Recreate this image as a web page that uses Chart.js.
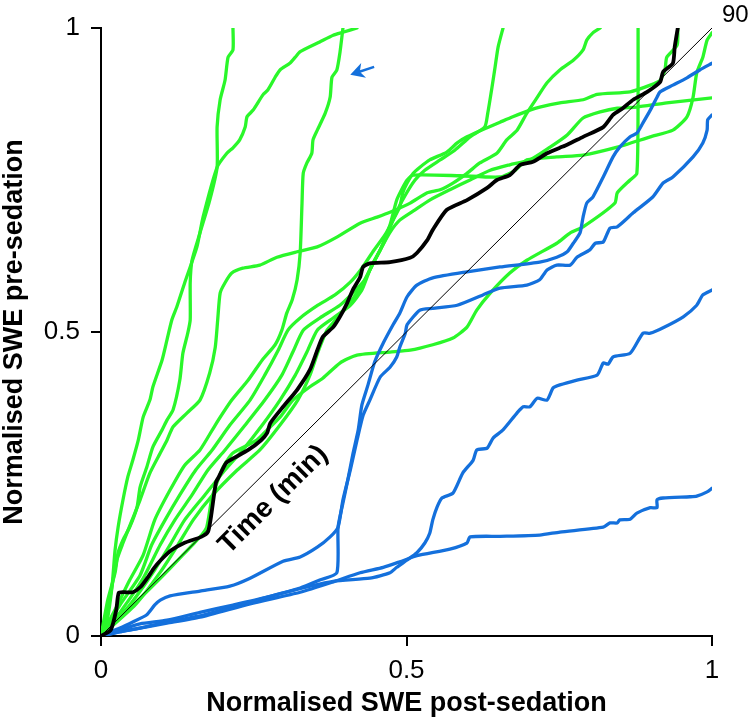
<!DOCTYPE html>
<html>
<head>
<meta charset="utf-8">
<script src="https://cdn.jsdelivr.net/npm/chart.js@4.4.1/dist/chart.umd.min.js"></script>
<style>
  html, body { margin: 0; padding: 0; background: #fff; }
  #wrap { width: 754px; height: 724px; }
</style>
</head>
<body>
<div id="wrap"><canvas id="sweChart" width="754" height="724"></canvas></div>
<script>
// ticks
const xTicks = [0, 0.5, 1];
const yTicks = [0, 0.5, 1];

// identity (time) line, 0 -> 90 min
const identityLine = [[0, 0], [1, 1]];
const identityEnd = '90';
const identityText = 'Time (min)';
const identityTextAt = [0.282, 0.224];

// arrow annotation (tip, tail) in data units
const arrowTip = [0.408, 0.923];
const arrowTail = [0.447, 0.936];

// mean curve
const meanCurve = [[0,0],[0.016,0.010],[0.025,0.043],[0.029,0.071],[0.038,0.072],[0.052,0.072],[0.065,0.081],[0.077,0.097],[0.087,0.112],[0.098,0.125],[0.115,0.141],[0.136,0.153],[0.164,0.163],[0.175,0.171],[0.180,0.196],[0.188,0.252],[0.193,0.262],[0.205,0.285],[0.218,0.293],[0.241,0.306],[0.262,0.322],[0.272,0.334],[0.277,0.350],[0.298,0.377],[0.321,0.405],[0.342,0.438],[0.354,0.470],[0.363,0.492],[0.380,0.508],[0.391,0.525],[0.403,0.548],[0.412,0.569],[0.424,0.590],[0.429,0.607],[0.440,0.613],[0.473,0.615],[0.506,0.622],[0.517,0.630],[0.534,0.651],[0.543,0.668],[0.566,0.701],[0.599,0.717],[0.632,0.737],[0.648,0.750],[0.669,0.758],[0.686,0.775],[0.707,0.780],[0.730,0.794],[0.751,0.803],[0.763,0.808],[0.789,0.821],[0.822,0.837],[0.838,0.857],[0.854,0.868],[0.871,0.882],[0.894,0.895],[0.915,0.911],[0.920,0.928],[0.936,0.942],[0.939,0.969],[0.944,1.0]];

// green subjects
const green1 = [[0,0],[0.011,0.059],[0.023,0.104],[0.028,0.137],[0.036,0.158],[0.047,0.179],[0.059,0.212],[0.064,0.245],[0.075,0.278],[0.085,0.311],[0.100,0.339],[0.108,0.355],[0.118,0.372],[0.129,0.421],[0.134,0.465],[0.142,0.498],[0.146,0.520],[0.146,0.581],[0.149,0.618],[0.162,0.663],[0.178,0.717],[0.190,0.771],[0.190,0.837],[0.195,0.882],[0.203,0.914],[0.208,0.952],[0.216,0.964],[0.216,1.0]];
const green2 = [[0,0],[0.023,0.043],[0.047,0.092],[0.069,0.133],[0.088,0.191],[0.113,0.240],[0.137,0.281],[0.162,0.306],[0.187,0.347],[0.214,0.388],[0.241,0.421],[0.264,0.454],[0.285,0.479],[0.296,0.503],[0.304,0.531],[0.313,0.553],[0.321,0.586],[0.326,0.630],[0.329,0.712],[0.331,0.761],[0.337,0.778],[0.345,0.794],[0.347,0.816],[0.354,0.832],[0.367,0.860],[0.375,0.886],[0.378,0.919],[0.386,0.931],[0.391,0.959],[0.396,1.0]];
const green3 = [[0,0],[0.010,0.026],[0.018,0.081],[0.023,0.141],[0.028,0.179],[0.036,0.224],[0.044,0.262],[0.052,0.289],[0.061,0.322],[0.069,0.360],[0.080,0.388],[0.085,0.410],[0.100,0.454],[0.108,0.487],[0.116,0.520],[0.124,0.541],[0.137,0.581],[0.157,0.640],[0.167,0.689],[0.190,0.771],[0.206,0.794],[0.216,0.803],[0.227,0.816],[0.236,0.837],[0.239,0.854],[0.249,0.865],[0.265,0.890],[0.273,0.898],[0.285,0.919],[0.293,0.931],[0.309,0.942],[0.318,0.952],[0.326,0.961],[0.358,0.977],[0.380,0.988],[0.396,0.993],[0.419,1.0]];
const green4 = [[0,0],[0.056,0.051],[0.097,0.105],[0.126,0.150],[0.151,0.191],[0.183,0.232],[0.223,0.273],[0.260,0.306],[0.293,0.347],[0.322,0.388],[0.342,0.429],[0.355,0.467],[0.370,0.503],[0.391,0.528],[0.411,0.553],[0.427,0.577],[0.444,0.610],[0.465,0.651],[0.481,0.692],[0.498,0.725],[0.514,0.750],[0.530,0.766],[0.555,0.783],[0.579,0.799],[0.604,0.821],[0.628,0.837],[0.633,0.860],[0.640,0.903],[0.645,0.936],[0.650,0.969],[0.658,1.0]];
const green5 = [[0,0],[0.011,0.043],[0.026,0.125],[0.036,0.153],[0.051,0.191],[0.064,0.224],[0.080,0.268],[0.097,0.301],[0.108,0.322],[0.118,0.344],[0.141,0.367],[0.162,0.388],[0.178,0.433],[0.187,0.475],[0.191,0.520],[0.195,0.564],[0.203,0.581],[0.214,0.597],[0.232,0.605],[0.260,0.610],[0.288,0.623],[0.321,0.632],[0.354,0.640],[0.386,0.656],[0.424,0.679],[0.452,0.689],[0.473,0.697],[0.506,0.712],[0.534,0.729],[0.555,0.734],[0.576,0.745],[0.599,0.761],[0.620,0.778],[0.648,0.794],[0.664,0.816],[0.681,0.832],[0.697,0.860],[0.714,0.886],[0.730,0.910],[0.751,0.931],[0.773,0.947],[0.789,0.964],[0.795,0.980],[0.805,0.992],[0.817,1.0]];
const green6 = [[0,0],[0.031,0.030],[0.064,0.062],[0.097,0.095],[0.129,0.128],[0.162,0.163],[0.173,0.179],[0.182,0.229],[0.200,0.278],[0.216,0.301],[0.255,0.322],[0.272,0.339],[0.293,0.360],[0.314,0.388],[0.342,0.410],[0.363,0.424],[0.391,0.449],[0.419,0.462],[0.473,0.467],[0.506,0.470],[0.543,0.479],[0.576,0.490],[0.599,0.508],[0.615,0.536],[0.637,0.564],[0.669,0.597],[0.697,0.618],[0.746,0.646],[0.768,0.663],[0.789,0.673],[0.841,0.712],[0.845,0.729],[0.866,0.750],[0.877,0.761],[0.879,0.882],[0.879,1.0]];
const green7 = [[0,0],[0.031,0.051],[0.064,0.100],[0.083,0.150],[0.105,0.191],[0.129,0.232],[0.155,0.273],[0.182,0.306],[0.211,0.347],[0.244,0.388],[0.268,0.429],[0.290,0.470],[0.306,0.503],[0.326,0.523],[0.355,0.544],[0.383,0.561],[0.408,0.582],[0.427,0.605],[0.445,0.632],[0.465,0.660],[0.478,0.684],[0.489,0.706],[0.494,0.729],[0.501,0.745],[0.511,0.761],[0.522,0.771],[0.538,0.783],[0.566,0.796],[0.583,0.811],[0.599,0.821],[0.632,0.836],[0.653,0.845],[0.674,0.854],[0.702,0.865],[0.718,0.870],[0.751,0.877],[0.789,0.882],[0.812,0.891],[0.866,0.895],[0.899,0.906],[0.915,0.914],[0.923,0.931],[0.926,0.952],[0.943,0.972],[0.944,1.0]];
const green8 = [[0,0],[0.034,0.043],[0.069,0.095],[0.097,0.150],[0.121,0.191],[0.149,0.232],[0.175,0.273],[0.203,0.306],[0.236,0.347],[0.268,0.388],[0.296,0.429],[0.314,0.467],[0.331,0.503],[0.358,0.523],[0.391,0.544],[0.412,0.564],[0.432,0.586],[0.445,0.613],[0.457,0.635],[0.473,0.676],[0.484,0.717],[0.494,0.738],[0.501,0.750],[0.511,0.758],[0.588,0.757],[0.653,0.755],[0.678,0.766],[0.697,0.783],[0.746,0.788],[0.789,0.791],[0.845,0.804],[0.899,0.821],[0.936,0.832],[0.959,0.854],[0.969,0.886],[0.975,0.926],[0.985,0.952],[0.992,0.980],[1.0,0.992]];
const green9 = [[0,0],[0.047,0.051],[0.088,0.109],[0.113,0.150],[0.137,0.191],[0.170,0.232],[0.203,0.273],[0.232,0.306],[0.264,0.347],[0.293,0.388],[0.318,0.429],[0.337,0.467],[0.354,0.503],[0.380,0.523],[0.408,0.544],[0.427,0.569],[0.440,0.602],[0.457,0.635],[0.473,0.664],[0.489,0.684],[0.514,0.701],[0.538,0.717],[0.571,0.734],[0.604,0.750],[0.637,0.766],[0.669,0.775],[0.702,0.783],[0.735,0.804],[0.763,0.824],[0.789,0.852],[0.817,0.862],[0.845,0.868],[0.877,0.870],[0.926,0.877],[1.0,0.885]];

// blue subjects
const blue1 = [[0,0],[0.031,0.010],[0.064,0.020],[0.108,0.026],[0.162,0.039],[0.216,0.051],[0.272,0.064],[0.326,0.079],[0.358,0.092],[0.386,0.104],[0.388,0.179],[0.396,0.219],[0.404,0.257],[0.412,0.298],[0.421,0.339],[0.427,0.380],[0.437,0.413],[0.448,0.451],[0.462,0.482],[0.478,0.512],[0.489,0.531],[0.501,0.558],[0.517,0.577],[0.543,0.589],[0.599,0.599],[0.653,0.607],[0.718,0.615],[0.746,0.623],[0.763,0.632],[0.773,0.646],[0.784,0.663],[0.789,0.689],[0.795,0.712],[0.805,0.722],[0.822,0.755],[0.838,0.788],[0.849,0.804],[0.866,0.821],[0.877,0.827],[0.887,0.844],[0.899,0.865],[0.910,0.886],[0.915,0.895],[0.936,0.906],[0.959,0.918],[0.980,0.931],[1.0,0.942]];
const blue2 = [[0,0],[0.015,0.007],[0.031,0.013],[0.052,0.023],[0.075,0.035],[0.088,0.051],[0.097,0.059],[0.113,0.066],[0.162,0.074],[0.211,0.082],[0.244,0.095],[0.298,0.123],[0.326,0.130],[0.354,0.146],[0.375,0.163],[0.388,0.179],[0.396,0.224],[0.408,0.273],[0.419,0.322],[0.429,0.363],[0.440,0.388],[0.457,0.426],[0.473,0.442],[0.484,0.459],[0.489,0.475],[0.498,0.498],[0.501,0.512],[0.522,0.536],[0.543,0.539],[0.583,0.544],[0.625,0.561],[0.653,0.572],[0.697,0.577],[0.718,0.586],[0.730,0.602],[0.746,0.610],[0.768,0.610],[0.779,0.623],[0.800,0.635],[0.809,0.646],[0.822,0.648],[0.833,0.671],[0.845,0.673],[0.871,0.696],[0.903,0.722],[0.920,0.745],[0.936,0.755],[0.969,0.788],[0.985,0.811],[0.992,0.832],[0.993,0.849],[1.0,0.857]];
const blue3 = [[0,0],[0.031,0.007],[0.064,0.013],[0.108,0.023],[0.162,0.033],[0.216,0.048],[0.298,0.071],[0.380,0.090],[0.440,0.095],[0.473,0.104],[0.484,0.113],[0.501,0.125],[0.517,0.137],[0.530,0.153],[0.538,0.169],[0.543,0.191],[0.550,0.212],[0.558,0.227],[0.576,0.235],[0.592,0.268],[0.609,0.289],[0.615,0.306],[0.632,0.309],[0.642,0.326],[0.658,0.339],[0.681,0.367],[0.691,0.377],[0.702,0.377],[0.714,0.391],[0.730,0.388],[0.740,0.408],[0.751,0.413],[0.779,0.421],[0.812,0.429],[0.822,0.449],[0.830,0.447],[0.838,0.459],[0.866,0.465],[0.887,0.498],[0.899,0.498],[0.920,0.507],[0.953,0.525],[0.975,0.544],[0.985,0.561],[1.0,0.569]];
const blue4 = [[0,0],[0.047,0.010],[0.108,0.021],[0.162,0.031],[0.244,0.053],[0.326,0.072],[0.380,0.089],[0.424,0.104],[0.462,0.113],[0.489,0.122],[0.517,0.132],[0.571,0.143],[0.599,0.153],[0.604,0.163],[0.653,0.164],[0.718,0.166],[0.751,0.171],[0.822,0.179],[0.833,0.186],[0.845,0.186],[0.849,0.191],[0.866,0.192],[0.877,0.202],[0.899,0.211],[0.910,0.211],[0.910,0.224],[0.920,0.227],[0.964,0.229],[0.975,0.230],[0.992,0.237],[1.0,0.243]];

const greenCurves = [green1, green2, green3, green4, green5, green6, green7, green8, green9];
const blueCurves = [blue1, blue2, blue3, blue4];

const GREEN = '#2af72a';
const BLUE = '#1470dc';
const FONT = "'Liberation Sans', Arial, Helvetica, sans-serif";

function curve(points, color, width, order) {
  return {
    data: points,
    borderColor: color,
    borderWidth: width,
    pointRadius: 0,
    tension: 0.2,
    fill: false,
    borderJoinStyle: 'round',
    borderCapStyle: 'round',
    order: order
  };
}

const datasets = [
  ...greenCurves.map(c => curve(c, GREEN, 3.3, 4)),
  ...blueCurves.map(c => curve(c, BLUE, 3.3, 3)),
  Object.assign(curve(identityLine, '#000', 1, 2), { tension: 0 }),
  curve(meanCurve, '#000', 3.8, 1)
];

const overlay = {
  id: 'overlay',
  afterDatasetsDraw(chart) {
    const { ctx, scales: { x, y } } = chart;
    const px = v => x.getPixelForValue(v);
    const py = v => y.getPixelForValue(v);
    ctx.save();
    // identity label along the line
    const ang = Math.atan2(py(identityLine[1][1]) - py(identityLine[0][1]), px(identityLine[1][0]) - px(identityLine[0][0]));
    ctx.translate(px(identityTextAt[0]), py(identityTextAt[1]));
    ctx.rotate(ang);
    ctx.fillStyle = '#000';
    ctx.font = 'bold 28px ' + FONT;
    ctx.textAlign = 'center';
    ctx.textBaseline = 'middle';
    ctx.fillText(identityText, 0, 0);
    ctx.restore();

    ctx.save();
    ctx.fillStyle = '#000';
    ctx.font = '24px ' + FONT;
    ctx.textAlign = 'left';
    ctx.textBaseline = 'middle';
    ctx.fillText(identityEnd, px(1) + 10, py(1) - 13);

    // arrow
    const tx = px(arrowTip[0]), ty = py(arrowTip[1]);
    const sx = px(arrowTail[0]), sy = py(arrowTail[1]);
    const a = Math.atan2(ty - sy, tx - sx);
    ctx.strokeStyle = BLUE;
    ctx.fillStyle = BLUE;
    ctx.lineWidth = 2.5;
    ctx.beginPath();
    ctx.moveTo(sx, sy);
    ctx.lineTo(tx - 8 * Math.cos(a), ty - 8 * Math.sin(a));
    ctx.stroke();
    const L = 16, W = 0.5;
    ctx.beginPath();
    ctx.moveTo(tx, ty);
    ctx.lineTo(tx - L * Math.cos(a - W), ty - L * Math.sin(a - W));
    ctx.lineTo(tx - 10 * Math.cos(a), ty - 10 * Math.sin(a));
    ctx.lineTo(tx - L * Math.cos(a + W), ty - L * Math.sin(a + W));
    ctx.closePath();
    ctx.fill();
    ctx.restore();
  }
};

new Chart(document.getElementById('sweChart'), {
  type: 'line',
  data: { datasets: datasets },
  options: {
    responsive: false,
    animation: false,
    events: [],
    layout: { padding: { left: 0, right: 42, top: 28, bottom: 0 } },
    plugins: { legend: { display: false }, tooltip: { enabled: false } },
    scales: {
      x: {
        type: 'linear',
        min: 0,
        max: 1,
        afterBuildTicks: s => { s.ticks = xTicks.map(v => ({ value: v })); },
        afterFit: s => { s.height = 88; },
        ticks: { color: '#000', font: { size: 26, family: FONT }, padding: 9, maxRotation: 0, callback: v => String(v) },
        grid: { drawOnChartArea: false, drawTicks: true, tickLength: 10, color: '#000', lineWidth: 2 },
        border: { display: true, color: '#000', width: 2 },
        title: { display: true, text: 'Normalised SWE post-sedation', color: '#000', font: { size: 27, weight: 'bold', family: FONT, lineHeight: 1 }, padding: { top: 0, bottom: 7 } }
      },
      y: {
        type: 'linear',
        min: 0,
        max: 1,
        afterBuildTicks: s => { s.ticks = yTicks.map(v => ({ value: v })); },
        afterFit: s => { s.width = 101; },
        ticks: { color: '#000', font: { size: 26, family: FONT }, padding: 11, callback: v => String(v) },
        grid: { drawOnChartArea: false, drawTicks: true, tickLength: 10, color: '#000', lineWidth: 2 },
        border: { display: true, color: '#000', width: 2 },
        title: { display: true, text: 'Normalised SWE pre-sedation', color: '#000', font: { size: 27, weight: 'bold', family: FONT, lineHeight: 1 }, padding: { top: 1, bottom: 0 } }
      }
    }
  },
  plugins: [overlay]
});
</script>
</body>
</html>
